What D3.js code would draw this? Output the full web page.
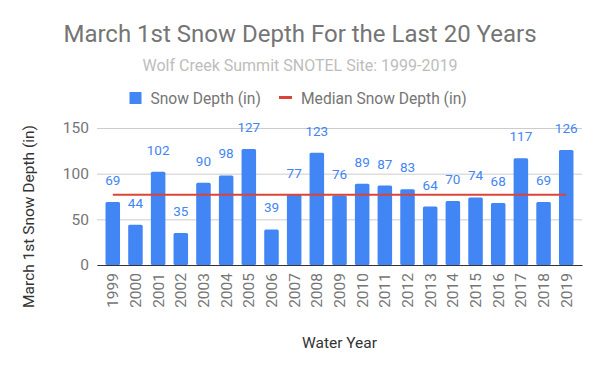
<!DOCTYPE html>
<html lang="en">
<head>
<meta charset="UTF-8">
<title>March 1st Snow Depth</title>
<script src="https://d3js.org/d3.v7.min.js"></script>
<style>
  html, body { margin: 0; padding: 0; background: #fff; }
  svg { display: block; font-family: Roboto, sans-serif; }
</style>
</head>
<body>
<svg></svg>
<script>
// data
const years = ['1999', '2000', '2001', '2002', '2003', '2004', '2005', '2006', '2007', '2008', '2009',
               '2010', '2011', '2012', '2013', '2014', '2015', '2016', '2017', '2018', '2019'];
const snowDepth = [69, 44, 102, 35, 90, 98, 127, 39, 77, 123, 76, 89, 87, 83, 64, 70, 74, 68, 117, 69, 126];
const medianDepth = d3.median(snowDepth);   // 77
const yTicks = [0, 50, 100, 150];

const width = 600, height = 371;
const margin = {top: 128, right: 18, bottom: 106, left: 97};
const innerW = width - margin.left - margin.right;
const innerH = height - margin.top - margin.bottom;

const blue = '#4285f4', red = '#db4437', textGrey = '#757575';

const svg = d3.select('svg').attr('width', width).attr('height', height);

// titles
svg.append('text')
    .attr('x', 300).attr('y', 42)
    .attr('text-anchor', 'middle')
    .attr('font-size', 24)
    .attr('fill', textGrey)
    .text('March 1st Snow Depth For the Last 20 Years');

svg.append('text')
    .attr('x', 300).attr('y', 71)
    .attr('text-anchor', 'middle')
    .attr('font-size', 16)
    .attr('fill', '#bdbdbd')
    .text('Wolf Creek Summit SNOTEL Site: 1999-2019');

// legend
const legend = svg.append('g').attr('font-size', 15.6).attr('fill', textGrey);
legend.append('rect').attr('x', 129.5).attr('y', 92).attr('width', 12).attr('height', 12).attr('fill', blue);
legend.append('text').attr('x', 150.5).attr('y', 103.5).text('Snow Depth (in)');
legend.append('rect').attr('x', 279).attr('y', 96).attr('width', 13).attr('height', 3).attr('fill', red);
legend.append('text').attr('x', 301).attr('y', 103.5).text('Median Snow Depth (in)');

const g = svg.append('g').attr('transform', `translate(${margin.left},${margin.top})`);

const x = d3.scaleBand().domain(years).range([0, innerW]).paddingInner(0.36).paddingOuter(0.376);
const y = d3.scaleLinear().domain([0, 150]).range([innerH, 0]);

// gridlines + y labels
const yAxis = d3.axisLeft(y).tickValues(yTicks).tickSize(-innerW).tickPadding(8);
g.append('g').call(yAxis)
    .call(s => s.select('.domain').remove())
    .call(s => s.selectAll('.tick line').attr('stroke', '#cccccc'))
    .call(s => s.selectAll('.tick text')
        .attr('font-family', 'Roboto, sans-serif').attr('font-size', 15.5).attr('fill', textGrey));

// bars
g.append('g').selectAll('rect')
    .data(snowDepth)
    .join('rect')
    .attr('x', (d, i) => x(years[i]))
    .attr('y', d => y(d))
    .attr('width', x.bandwidth())
    .attr('height', d => innerH - y(d))
    .attr('rx', 1.5)
    .attr('fill', blue);

// data labels
g.append('g').selectAll('text')
    .data(snowDepth)
    .join('text')
    .attr('x', (d, i) => x(years[i]) + x.bandwidth() / 2)
    .attr('y', d => y(d) - 17)
    .attr('text-anchor', 'middle')
    .attr('font-size', 13.5)
    .attr('fill', blue)
    .text(d => d);

// median line, from first to last bar centre
g.append('line')
    .attr('x1', x(years[0]) + x.bandwidth() / 2)
    .attr('x2', x(years[years.length - 1]) + x.bandwidth() / 2)
    .attr('y1', y(medianDepth))
    .attr('y2', y(medianDepth))
    .attr('stroke', red)
    .attr('stroke-width', 2);

// x axis
const xAxis = d3.axisBottom(x).tickSize(0).tickPadding(0);
g.append('g')
    .attr('transform', `translate(0,${innerH})`)
    .call(xAxis)
    .call(s => s.select('.domain').attr('stroke', '#333333').attr('stroke-width', 1.2))
    .call(s => s.selectAll('.tick text')
        .attr('font-family', 'Roboto, sans-serif').attr('font-size', 15.5).attr('fill', textGrey)
        .attr('transform', 'rotate(-90)')
        .attr('text-anchor', 'end')
        .attr('dy', '0.35em')
        .attr('x', -8)
        .attr('y', 0));

// axis titles
svg.append('text')
    .attr('x', margin.left + innerW / 2).attr('y', 348)
    .attr('text-anchor', 'middle')
    .attr('font-size', 15.5)
    .attr('fill', '#333333')
    .text('Water Year');

svg.append('text')
    .attr('transform', `translate(34,${margin.top + innerH / 2 + 20}) rotate(-90)`)
    .attr('text-anchor', 'middle')
    .attr('font-size', 15.5)
    .attr('fill', '#333333')
    .text('March 1st Snow Depth (in)');
</script>
</body>
</html>
